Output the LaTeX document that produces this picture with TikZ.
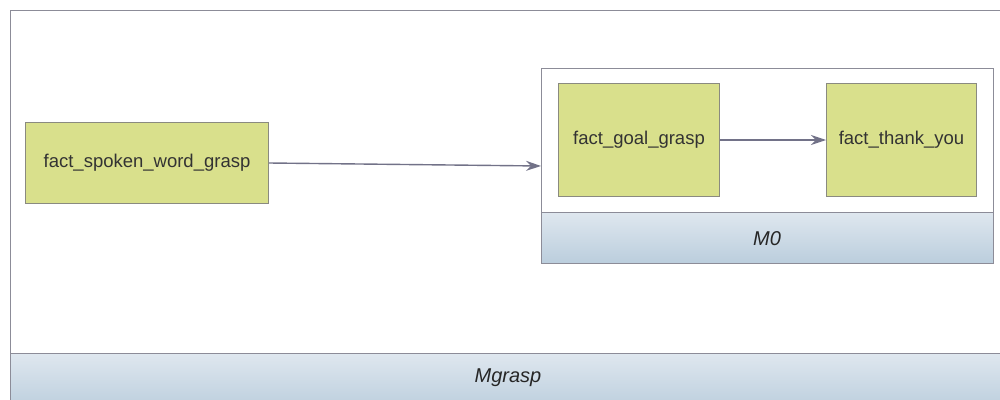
\documentclass[tikz,border=0pt]{standalone}
\usepackage{fontspec}
\setmainfont{Liberation Sans}
\usetikzlibrary{arrows.meta}
\definecolor{factfill}{HTML}{D9E08C}
\definecolor{factline}{HTML}{8A8A80}
\definecolor{frameline}{HTML}{8C8C98}
\definecolor{bandtop}{HTML}{DFE7EF}
\definecolor{bandbot}{HTML}{BBCEDD}
\definecolor{linkcol}{HTML}{727288}
\tikzset{
  x=1pt, y=-1pt,
  fact/.style={draw=factline, fill=factfill, line width=1pt, anchor=north west,
    inner sep=0pt, font=\fontsize{18.5}{22}\selectfont, text=black!80},
  frame/.style={draw=frameline, line width=1pt, fill=white},
  band/.style={draw=frameline, line width=1pt, top color=bandtop, bottom color=bandbot},
  bandlabel/.style={font=\fontsize{20}{24}\selectfont\itshape, text=black!85},
  link/.style={draw=linkcol, line width=1.4pt, -{Stealth[length=15pt,width=10pt]}}
}
\begin{document}
\begin{tikzpicture}
\useasboundingbox (0,0) rectangle (1000,399);
\begin{scope}
\clip (0,0) rectangle (1000,399);
% outer container Mgrasp
\draw[frame] (10,10) rectangle (1010,410);
\draw[band] (10,353) rectangle (1010,410);
\node[bandlabel] (mgrasp) at (508,378) {Mgrasp};
\end{scope}
% inner container M0
\draw[frame] (541,68) rectangle (993,263);
\draw[band] (541,212) rectangle (993,263);
\node[bandlabel] (m0) at (767,239) {M0};
\coordinate (m0in) at (541,166);
% facts
\node[fact, minimum width=243pt, minimum height=81pt] (spoken) at (25,122) {fact\_spoken\_word\_grasp};
\node[fact, minimum width=161pt, minimum height=113pt] (goal) at (558,83) {fact\_goal\_grasp};
\node[fact, minimum width=150pt, minimum height=113pt] (thank) at (826,83) {fact\_thank\_you};
% links
\draw[link] (spoken.east) -- (m0in);
\draw[link] (goal.east) -- (thank.west);
\end{tikzpicture}
\end{document}
